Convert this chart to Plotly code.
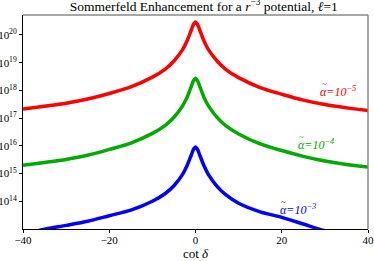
import plotly.graph_objects as go

cot_delta = [-40, -35, -30, -25, -20, -15, -10, -7, -5, -3, -2, -1, -0.5, 0,
             0.5, 1, 2, 3, 5, 7, 10, 15, 20, 25, 30, 35, 40]
# log10 of the enhancement
log_s_1e5 = [17.33, 17.43, 17.54, 17.69, 17.89, 18.13, 18.48, 18.77, 19.06, 19.47, 19.77, 20.17, 20.37, 20.47,
             20.37, 20.17, 19.77, 19.47, 19.06, 18.76, 18.46, 18.10, 17.86, 17.65, 17.49, 17.37, 17.27]
log_s_1e4 = [15.30, 15.40, 15.51, 15.66, 15.87, 16.10, 16.45, 16.74, 17.03, 17.44, 17.74, 18.14, 18.34, 18.44,
             18.34, 18.14, 17.74, 17.44, 17.03, 16.73, 16.43, 16.07, 15.83, 15.62, 15.45, 15.33, 15.24]
log_s_1e3 = [12.80, 12.99, 13.13, 13.28, 13.48, 13.68, 14.00, 14.28, 14.56, 14.97, 15.27, 15.66, 15.86, 15.96,
             15.86, 15.66, 15.27, 14.96, 14.54, 14.24, 13.93, 13.62, 13.42, 13.18, 12.94, 12.78, 12.65]

series_exps = ["−5", "−4", "−3"]
series_colors = ["#ff0000", "#00aa00", "#0000ff"]
label_x = [28.5, 23.3, 19.1]          # left edge of each label
label_log_y = [17.95, 16.04, 13.70]

y_tick_exp = [14, 15, 16, 17, 18, 19, 20]
x_ticks = [-40, -20, 0, 20, 40]
x_tick_text = ["−40", "−20", "0", "20", "40"]

FONT = "Liberation Serif"

fig = go.Figure()
for logs, ex, col in zip([log_s_1e5, log_s_1e4, log_s_1e3], series_exps, series_colors):
    fig.add_trace(go.Scatter(
        x=cot_delta, y=[10.0 ** v for v in logs], mode="lines",
        name="α̃=10^" + ex,
        line=dict(color=col, width=3.5, shape="spline", smoothing=0.8),
        showlegend=False, hoverinfo="skip"))

for lx, ly, ex, col in zip(label_x, label_log_y, series_exps, series_colors):
    fig.add_annotation(x=lx, y=ly, xref="x", yref="y", xanchor="left", yanchor="middle",
                       text="<i>α=10<sup>" + ex + "</sup></i>",
                       showarrow=False, font=dict(family=FONT, size=12, color=col))
    # the tilde over alpha
    fig.add_annotation(x=lx, y=ly, xref="x", yref="y", xanchor="left", yanchor="middle",
                       text="~", xshift=1.5, yshift=8,
                       showarrow=False, font=dict(family=FONT, size=9, color=col))

y_tick_vals = [10.0 ** e for e in y_tick_exp]

fig.update_layout(
    width=374, height=261,
    margin=dict(l=23, r=6, t=15, b=32, autoexpand=False),
    paper_bgcolor="white", plot_bgcolor="white",
    title=dict(text="Sommerfeld Enhancement for a <i>r</i><sup>−3</sup> potential, <i>ℓ</i>=1",
               x=0.524, xanchor="center", xref="paper", y=0.995, yanchor="top",
               automargin=False,
               font=dict(family=FONT, size=13.5, color="black")),
    font=dict(family=FONT, size=11, color="black"),
    xaxis=dict(range=[-40, 40], tickvals=x_ticks, ticktext=x_tick_text,
               ticks="outside", ticklen=3, tickcolor="black",
               showline=True, linecolor="black", linewidth=1,
               showgrid=False, zeroline=False, automargin=False,
               ticklabelstandoff=-2,
               title=dict(text="cot <i>δ</i>", font=dict(family=FONT, size=13), standoff=2),
               tickfont=dict(family=FONT, size=11)),
    xaxis2=dict(range=[-40, 40], overlaying="x", anchor="y", side="bottom",
                tickvals=x_ticks, ticks="inside", ticklen=3, tickcolor="black",
                showticklabels=False, showline=False, showgrid=False, zeroline=False,
                automargin=False),
    yaxis=dict(type="log", range=[13, 20.72],
               tickvals=y_tick_vals,
               ticktext=["10<sup>%d</sup>" % e for e in y_tick_exp],
               ticks="outside", ticklen=3, tickcolor="black",
               showline=True, linecolor="black", linewidth=1,
               showgrid=False, zeroline=False, automargin=False,
               tickfont=dict(family=FONT, size=11)),
    yaxis2=dict(type="log", range=[13, 20.72], overlaying="y", anchor="x", side="left",
                tickvals=y_tick_vals, ticks="inside", ticklen=3,
                tickcolor="black", showticklabels=False, showline=False,
                showgrid=False, zeroline=False, automargin=False),
    shapes=[
        dict(type="line", xref="paper", yref="paper", x0=0, x1=1, y0=1, y1=1,
             line=dict(color="#888888", width=1.5)),
        dict(type="line", xref="paper", yref="paper", x0=1, x1=1, y0=0, y1=1,
             line=dict(color="#888888", width=1.5)),
    ],
)

fig.write_html("out.html", config={"displayModeBar": False},
               post_script="document.body.style.margin='0px';")
